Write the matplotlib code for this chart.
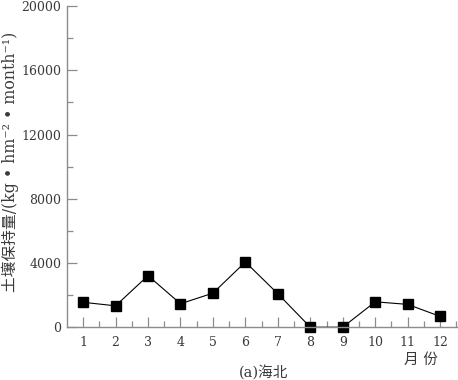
import matplotlib.pyplot as plt
import numpy as np

plt.rcParams['font.family'] = ['DejaVu Serif', 'Noto Sans CJK SC']

months = np.arange(1, 13)
month_labels = [str(m) for m in months]
soil = [1550, 1330, 3210, 1460, 2120, 4060, 2080, 0, 0, 1580, 1420, 670]

grey = '#8c8c8c'
txt = '#3a3a3a'

fig = plt.figure(figsize=(4.58, 3.80), dpi=100)
ax = fig.add_axes([0.146, 0.139, 0.854, 0.845])

ax.plot(months, soil, color='black', lw=0.8, marker='s', ms=7,
        markerfacecolor='black', markeredgecolor='black', clip_on=False)

ax.set_xlim(0.5, 12.55)
ax.set_ylim(0, 20000)
ax.set_xticks(months)
ax.set_xticklabels(month_labels)
ax.set_xticks(np.arange(1.5, 12.6, 1), minor=True)
ax.set_yticks(np.arange(0, 20001, 4000))
ax.set_yticks(np.arange(2000, 20000, 4000), minor=True)

for s in ['top', 'right']:
    ax.spines[s].set_visible(False)
for s in ['left', 'bottom']:
    ax.spines[s].set_color(grey)
    ax.spines[s].set_linewidth(1.0)

ax.tick_params(axis='both', which='major', direction='in', length=7, color=grey,
               labelsize=9, labelcolor=txt, width=0.9)
ax.tick_params(axis='both', which='minor', direction='in', length=4, color=grey, width=0.9)
ax.tick_params(axis='x', pad=6)
ax.tick_params(axis='y', pad=4)

fig.text(0.022, 0.574, '土壤保持量/(kg • hm⁻² • month⁻¹)', fontsize=11.3, color=txt,
         rotation=90, ha='center', va='center')
fig.text(0.919, 0.053, '月 份', fontsize=10.5, color=txt, ha='center', va='center')
fig.text(0.575, 0.018, '(a)海北', fontsize=10.5, color=txt, ha='center', va='center')

plt.savefig('out.png', dpi=100)
